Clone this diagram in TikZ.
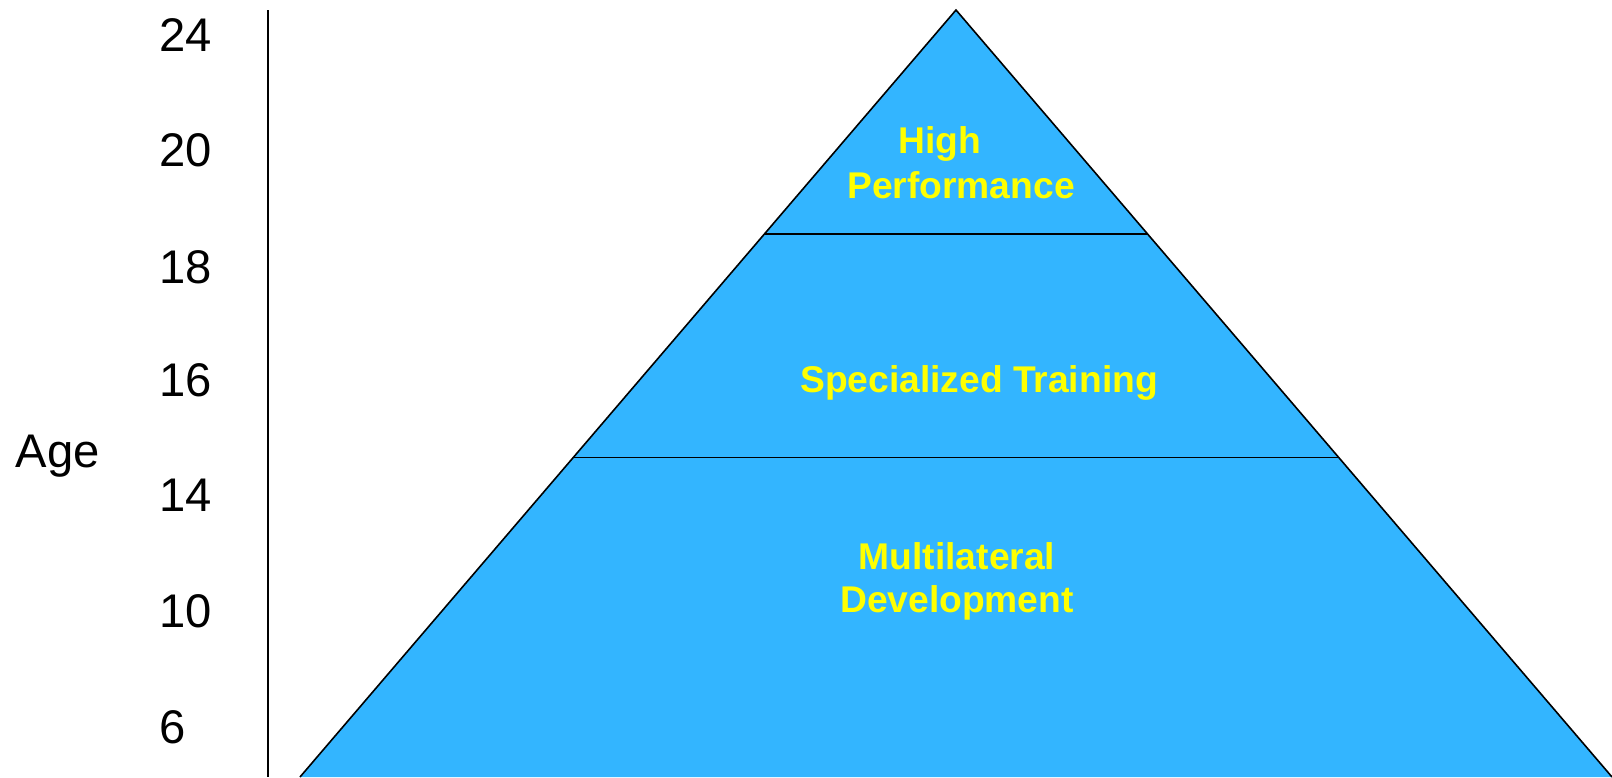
\documentclass[tikz,border=0pt]{standalone}
\usepackage{fontspec}
\setmainfont{Liberation Sans}
\definecolor{pyrblue}{RGB}{51,181,255}
\definecolor{pyryellow}{RGB}{255,255,0}
\begin{document}
\begin{tikzpicture}[x=0.5pt,y=-0.5pt,
  agelabel/.style={anchor=base west,inner sep=0pt,font=\fontsize{23.6}{28}\selectfont},
  tierlabel/.style={anchor=base,inner sep=0pt,text=pyryellow,font=\fontsize{18.6}{22}\selectfont\bfseries},
  edge/.style={draw=black,line width=0.8pt}]
\useasboundingbox (0,0) rectangle (1612,777);
% pyramid
\coordinate (apex) at (956,10);
\coordinate (bl) at (300,777);
\coordinate (br) at (1612,777);
\coordinate (l1) at (764.5,234);
\coordinate (r1) at (1147.5,234);
\coordinate (l2) at (573.5,457.5);
\coordinate (r2) at (1338.5,457.5);
\fill[pyrblue] (apex) -- (br) -- (bl) -- cycle;
\draw[edge] (bl) -- (apex) -- (br);
\draw[edge] (l1) -- (r1);
\draw[edge] (l2) -- (r2);
% axis
\coordinate (axtop) at (268,10);
\coordinate (axbot) at (268,777);
\draw[line width=1pt] (axtop) -- (axbot);
% labels
\node[agelabel] (a24) at (159,51) {24};
\node[agelabel] (a20) at (159,166.5) {20};
\node[agelabel] (a18) at (159,283) {18};
\node[agelabel] (a16) at (159,396) {16};
\node[agelabel] (a14) at (159,511.5) {14};
\node[agelabel] (a10) at (159,627.5) {10};
\node[agelabel] (a6) at (159,743.5) {6};
\node[agelabel] (age) at (15.5,467.5) {Age};
\node[tierlabel] (hp1) at (940,153) {High};
\node[tierlabel] (hp2) at (961,198.4) {Performance};
\node[tierlabel] (st) at (979,392.7) {Specialized Training};
\node[tierlabel] (md1) at (957,569.5) {Multilateral};
\node[tierlabel] (md2) at (957,612.7) {Development};
\end{tikzpicture}
\end{document}
